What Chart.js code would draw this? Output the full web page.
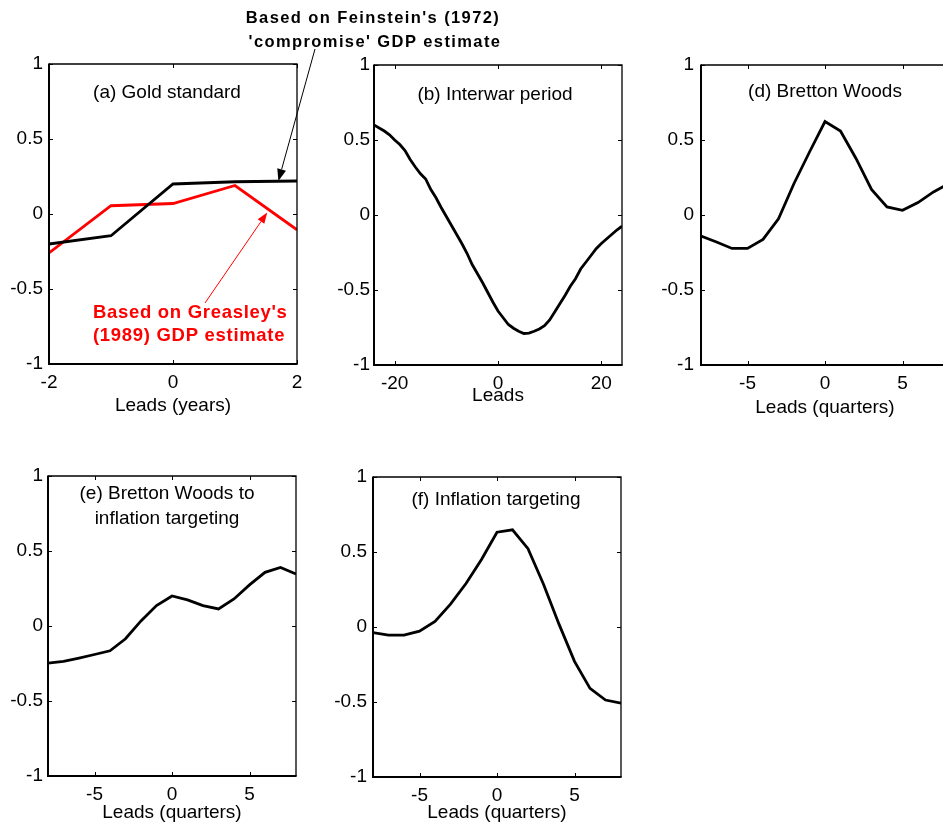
<!DOCTYPE html>
<html>
<head>
<meta charset="utf-8">
<script src="https://cdn.jsdelivr.net/npm/chart.js@4.4.1/dist/chart.umd.min.js"></script>
<style>
  html, body { margin: 0; padding: 0; background: #fff; }
  #page { position: relative; width: 943px; height: 834px; overflow: hidden; background: #fff; }
  #page canvas { position: absolute; left: 0; top: 0; }
</style>
</head>
<body>
<div id="page"></div>
<script>
// values
const goldLeads = [-2, -1, 0, 1, 2]
const goldFeinstein = [-0.20, -0.145, 0.20, 0.215, 0.22]
const goldGreasley = [-0.26, 0.055, 0.07, 0.19, -0.105]

const interwarLeads = [-24, -23, -22, -21, -20, -19, -18, -17, -16, -15, -14, -13, -12, -11, -10, -9, -8, -7, -6, -5, -4, -3, -2, -1,
    0, 1, 2, 3, 4, 5, 6, 7, 8, 9, 10, 11, 12, 13, 14, 15, 16, 17, 18, 19, 20, 21, 22, 23, 24]
const interwarValues = [0.60, 0.58, 0.56, 0.535, 0.50, 0.47, 0.43, 0.37, 0.32, 0.275, 0.24, 0.17, 0.115, 0.05, -0.01, -0.07, -0.13, -0.19,
    -0.255, -0.33, -0.39, -0.45, -0.515, -0.58, -0.64, -0.685, -0.73, -0.755, -0.775, -0.79, -0.787, -0.775, -0.76, -0.738,
    -0.70, -0.645, -0.59, -0.535, -0.475, -0.425, -0.36, -0.315, -0.27, -0.225, -0.19, -0.16, -0.13, -0.10, -0.075]

const quarterLeads = [-8, -7, -6, -5, -4, -3, -2, -1, 0, 1, 2, 3, 4, 5, 6, 7, 8]
const brettonValues = [-0.14, -0.18, -0.223, -0.223, -0.163, -0.025, 0.21, 0.42, 0.623, 0.56, 0.377, 0.17, 0.054, 0.031, 0.083, 0.154, 0.21]
const brettonToItValues = [-0.247, -0.236, -0.214, -0.19, -0.165, -0.085, 0.034, 0.136, 0.20, 0.174, 0.136, 0.114, 0.18, 0.274, 0.358, 0.39, 0.347]
const itValues = [-0.037, -0.054, -0.054, -0.028, 0.037, 0.152, 0.29, 0.45, 0.632, 0.648, 0.522, 0.285, 0.019, -0.229, -0.409, -0.487, -0.508]

const yTickValues = [-1, -0.5, 0, 0.5, 1]
const yearTicks = [-2, 0, 2]
const monthTicks = [-20, 0, 20]
const quarterTicks = [-5, 0, 5]

const FONT = '"Liberation Sans", Arial, Helvetica, sans-serif'
const CANVAS_W = 960
const CANVAS_H = 834
const PLOT_W = 248
const PLOT_H = 300
const Y_AXIS_W = 45
const TICK = 4

Chart.defaults.font.family = FONT
Chart.defaults.font.size = 19
Chart.defaults.color = '#000'

const panels = [
    { left: 49, top: 64, xMin: -2, xMax: 2, xTicks: yearTicks, xTitle: 'Leads (years)', titleGap: 42, yPad: 6,
      label: ['(a) Gold standard'], labelDx: -6, labelDy: 29, notes: true,
      series: [{ x: goldLeads, y: goldFeinstein, color: '#000000' }, { x: goldLeads, y: goldGreasley, color: '#ff0000' }] },
    { left: 374, top: 65, xMin: -24, xMax: 24, xTicks: monthTicks, xTitle: 'Leads', titleGap: 31, yPad: 4,
      label: ['(b) Interwar period'], labelDx: -3, labelDy: 30,
      series: [{ x: interwarLeads, y: interwarValues, color: '#000000' }] },
    { left: 701, top: 65, xMin: -8, xMax: 8, xTicks: quarterTicks, xTitle: 'Leads (quarters)', titleGap: 43, yPad: 7,
      label: ['(d) Bretton Woods'], labelDx: 0, labelDy: 27,
      series: [{ x: quarterLeads, y: brettonValues, color: '#000000' }] },
    { left: 48, top: 476, xMin: -8, xMax: 8, xTicks: quarterTicks, xTitle: 'Leads (quarters)', titleGap: 37, yPad: 5,
      label: ['(e) Bretton Woods to', 'inflation targeting'], labelDx: -5, labelDy: 18, labelGap: 25,
      series: [{ x: quarterLeads, y: brettonToItValues, color: '#000000' }] },
    { left: 373, top: 477, xMin: -8, xMax: 8, xTicks: quarterTicks, xTitle: 'Leads (quarters)', titleGap: 36, yPad: 6,
      label: ['(f) Inflation targeting'], labelDx: -1, labelDy: 23,
      series: [{ x: quarterLeads, y: itValues, color: '#000000' }] }
]

// MATLAB-like box with inward ticks on every side, plus the panel caption
const framePlugin = {
    id: 'frame',
    afterDatasetsDraw(chart, args, opts) {
        const { ctx, chartArea: a, scales: { x, y } } = chart
        ctx.save()
        ctx.strokeStyle = '#000'
        ctx.lineWidth = 1
        ctx.beginPath()
        x.ticks.forEach(t => {
            const px = Math.round(x.getPixelForValue(t.value)) + 0.5
            ctx.moveTo(px, a.bottom); ctx.lineTo(px, a.bottom - TICK)
            ctx.moveTo(px, a.top); ctx.lineTo(px, a.top + TICK)
        })
        y.ticks.forEach(t => {
            const py = Math.round(y.getPixelForValue(t.value)) + 0.5
            ctx.moveTo(a.left, py); ctx.lineTo(a.left + TICK, py)
            ctx.moveTo(a.right, py); ctx.lineTo(a.right - TICK, py)
        })
        ctx.stroke()

        ctx.lineWidth = 1.3
        ctx.beginPath()
        ctx.moveTo(a.left, a.top); ctx.lineTo(a.right, a.top); ctx.lineTo(a.right, a.bottom)
        ctx.stroke()
        ctx.lineWidth = 2
        ctx.beginPath()
        ctx.moveTo(a.left, a.top - 0.6); ctx.lineTo(a.left, a.bottom); ctx.lineTo(a.right + 0.6, a.bottom)
        ctx.stroke()

        ctx.fillStyle = '#000'
        ctx.font = '19px ' + FONT
        ctx.textAlign = 'center'
        ctx.textBaseline = 'middle'
        const cx = (a.left + a.right) / 2 + opts.labelDx
        opts.label.forEach((line, i) => ctx.fillText(line, cx, a.top + opts.labelDy + i * (opts.labelGap || 0)))
        ctx.restore()
    }
}

function drawArrow(ctx, x0, y0, x1, y1, color, headLen, headHalf) {
    const ang = Math.atan2(y1 - y0, x1 - x0)
    const bx = x1 - headLen * Math.cos(ang)
    const by = y1 - headLen * Math.sin(ang)
    ctx.strokeStyle = color
    ctx.fillStyle = color
    ctx.lineWidth = 1
    ctx.beginPath()
    ctx.moveTo(x0, y0); ctx.lineTo(bx, by)
    ctx.stroke()
    ctx.beginPath()
    ctx.moveTo(x1, y1)
    ctx.lineTo(bx + headHalf * Math.sin(ang), by - headHalf * Math.cos(ang))
    ctx.lineTo(bx - headHalf * Math.sin(ang), by + headHalf * Math.cos(ang))
    ctx.closePath()
    ctx.fill()
}

// the two callouts of panel (a)
const notesPlugin = {
    id: 'notes',
    afterDraw(chart) {
        const { ctx, scales: { x, y } } = chart
        ctx.save()
        ctx.fillStyle = '#000'
        ctx.font = 'bold 16.5px ' + FONT
        if ('letterSpacing' in ctx) ctx.letterSpacing = '1.4px'
        ctx.textAlign = 'center'
        ctx.textBaseline = 'alphabetic'
        ctx.fillText("Based on Feinstein's (1972)", 373, 23)
        ctx.fillText("'compromise' GDP estimate", 375, 47)
        drawArrow(ctx, 315, 49, x.getPixelForValue(1.7), y.getPixelForValue(0.22), '#000', 12, 4.5)

        ctx.fillStyle = '#ff0000'
        ctx.font = 'bold 18.5px ' + FONT
        if ('letterSpacing' in ctx) ctx.letterSpacing = '0.7px'
        ctx.textAlign = 'left'
        ctx.fillText("Based on Greasley's", 93, 318)
        ctx.fillText('(1989) GDP estimate', 93, 341)
        drawArrow(ctx, 205, 303, x.getPixelForValue(1.52), y.getPixelForValue(0.01), '#ff0000', 11, 4)
        ctx.restore()
    }
}

const page = document.getElementById('page')

panels.forEach(p => {
    const canvas = document.createElement('canvas')
    canvas.width = CANVAS_W
    canvas.height = CANVAS_H
    canvas.style.width = CANVAS_W + 'px'
    canvas.style.height = CANVAS_H + 'px'
    page.appendChild(canvas)

    const xAxisH = p.titleGap + 11.4
    new Chart(canvas, {
        type: 'line',
        data: {
            datasets: p.series.map(s => ({
                data: s.x.map((v, i) => ({ x: v, y: s.y[i] })),
                borderColor: s.color,
                borderWidth: 2.8,
                pointRadius: 0,
                tension: 0,
                fill: false,
                clip: 0
            }))
        },
        options: {
            responsive: false,
            animation: false,
            events: [],
            layout: {
                padding: {
                    left: p.left - Y_AXIS_W,
                    top: p.top,
                    right: CANVAS_W - p.left - PLOT_W,
                    bottom: CANVAS_H - p.top - PLOT_H - xAxisH
                }
            },
            scales: {
                x: {
                    type: 'linear',
                    min: p.xMin,
                    max: p.xMax,
                    grid: { display: false, drawTicks: false },
                    border: { display: false },
                    ticks: { padding: 7, maxRotation: 0, font: { size: 19 }, callback: v => String(v) },
                    afterBuildTicks: s => { s.ticks = p.xTicks.map(v => ({ value: v })) },
                    afterFit: s => { s.height = xAxisH },
                    title: { display: true, text: p.xTitle, font: { size: 19 }, padding: 0 }
                },
                y: {
                    min: -1,
                    max: 1,
                    grid: { display: false, drawTicks: false },
                    border: { display: false },
                    ticks: { padding: p.yPad, font: { size: 19 }, callback: v => String(v) },
                    afterBuildTicks: s => { s.ticks = yTickValues.map(v => ({ value: v })) },
                    afterFit: s => { s.width = Y_AXIS_W }
                }
            },
            plugins: {
                legend: { display: false },
                tooltip: { enabled: false },
                frame: { label: p.label, labelDx: p.labelDx, labelDy: p.labelDy, labelGap: p.labelGap }
            }
        },
        plugins: p.notes ? [framePlugin, notesPlugin] : [framePlugin]
    })
})
</script>
</body>
</html>
